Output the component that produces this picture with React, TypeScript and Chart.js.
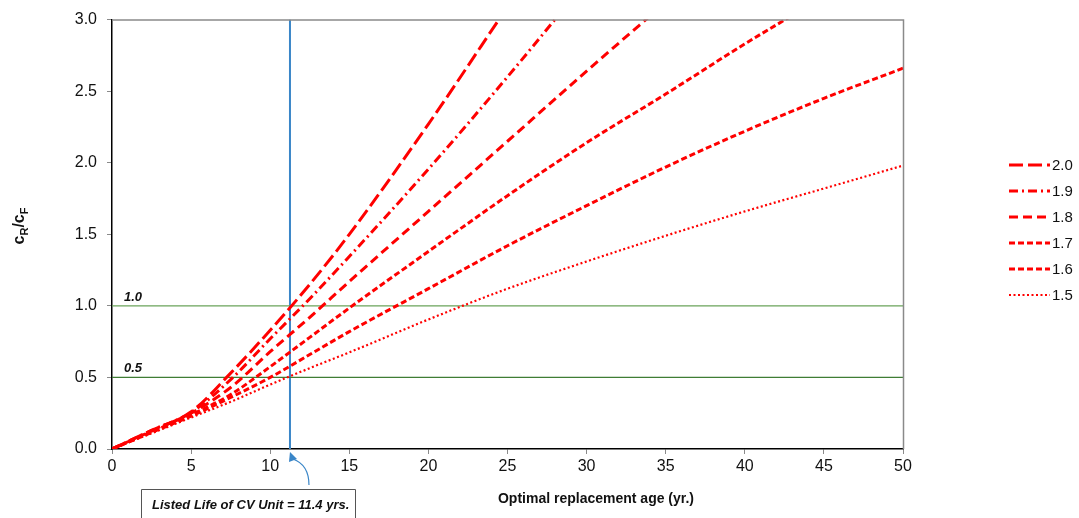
import React, { useEffect, useRef } from "react";
import { Chart, registerables } from "chart.js";
Chart.register(...registerables);

// ---- data ----
const ages = [0, 2.5, 5, 7.5, 10, 12.5, 15, 20, 25, 30, 35, 40, 45, 50];
const ratio20 = [0, 0.13, 0.26, 0.53, 0.83, 1.15, 1.5, 2.27, 3.09, null, null, null, null, null];
const ratio19 = [0, 0.13, 0.255, 0.485, 0.77, 1.05, 1.345, 1.955, 2.6, 3.27, null, null, null, null];
const ratio18 = [0, 0.125, 0.25, 0.43, 0.68, 0.92, 1.17, 1.66, 2.15, 2.64, 3.12, null, null, null];
const ratio17 = [0, 0.12, 0.24, 0.38, 0.575, 0.78, 0.985, 1.38, 1.77, 2.14, 2.48, 2.83, 3.16, null];
const ratio16 = [0, 0.115, 0.23, 0.36, 0.5, 0.66, 0.82, 1.12, 1.42, 1.7, 1.97, 2.22, 2.45, 2.66];
const ratio15 = [0, 0.11, 0.22, 0.33, 0.45, 0.565, 0.675, 0.905, 1.12, 1.31, 1.49, 1.66, 1.82, 1.98];
const seriesLabels = ["2.0", "1.9", "1.8", "1.7", "1.6", "1.5"];
const seriesValues = [ratio20, ratio19, ratio18, ratio17, ratio16, ratio15];
const seriesDashes = [[14, 5], [9, 4, 2, 4], [9, 5], [6, 3], [6, 3], [2, 2.5]];
const seriesWidths = [3, 3, 3, 3, 3, 2.2];

const refLevels = [1.0, 0.5];
const refLabels = ["1.0", "0.5"];
const refColors = ["#6aa35a", "#3f7d34"];
const listedLifeLine = 11.25;
const listedLifeText = "Listed Life of CV Unit = 11.4 yrs.";
const xRange = [0, 50];
const yRange = [0, 3];
const xTitle = "Optimal replacement age (yr.)";

const FONT = "'Liberation Sans', Arial, sans-serif";

const decor = {
  id: "decor",
  afterDraw(chart: any) {
    const { ctx, chartArea, scales } = chart;
    const xs = scales.x;
    const ys = scales.y;
    ctx.save();
    // top & right frame
    ctx.strokeStyle = "#8a8a8a";
    ctx.lineWidth = 1.5;
    ctx.beginPath();
    ctx.moveTo(chartArea.left, chartArea.top + 0.5);
    ctx.lineTo(chartArea.right + 0.5, chartArea.top + 0.5);
    ctx.lineTo(chartArea.right + 0.5, chartArea.bottom);
    ctx.stroke();

    // reference level labels
    ctx.fillStyle = "#111";
    ctx.font = `bold italic 13px ${FONT}`;
    ctx.textBaseline = "alphabetic";
    ctx.textAlign = "left";
    refLevels.forEach((lv, i) => {
      ctx.fillText(refLabels[i], xs.getPixelForValue(0) + 12, ys.getPixelForValue(lv) - 5);
    });

    // legend
    const lx = 1009;
    chart.data.datasets.forEach((ds: any, i: number) => {
      if (ds.legendHidden) return;
      const y = 165 + i * 26;
      ctx.strokeStyle = ds.borderColor;
      ctx.lineWidth = ds.borderWidth;
      ctx.setLineDash(ds.borderDash || []);
      ctx.beginPath();
      ctx.moveTo(lx, y);
      ctx.lineTo(lx + 41, y);
      ctx.stroke();
      ctx.setLineDash([]);
      ctx.fillStyle = "#111";
      ctx.font = `15px ${FONT}`;
      ctx.textBaseline = "middle";
      ctx.fillText(ds.label, lx + 43, y + 1);
    });

    // y title c_R / c_F
    ctx.save();
    ctx.translate(24, 226);
    ctx.rotate(-Math.PI / 2);
    ctx.fillStyle = "#111";
    ctx.textBaseline = "alphabetic";
    const big = `bold 16px ${FONT}`;
    const small = `bold 11px ${FONT}`;
    const parts: [string, string, number][] = [["c", big, 0], ["R", small, 4], ["/c", big, 0], ["F", small, 4]];
    let total = 0;
    parts.forEach(([t, f]) => { ctx.font = f; total += ctx.measureText(t).width; });
    let cx = -total / 2;
    parts.forEach(([t, f, dy]) => {
      ctx.font = f;
      ctx.fillText(t, cx, dy);
      cx += ctx.measureText(t).width;
    });
    ctx.restore();

    // x title
    ctx.fillStyle = "#111";
    ctx.font = `bold 14px ${FONT}`;
    ctx.textAlign = "center";
    ctx.textBaseline = "alphabetic";
    ctx.fillText(xTitle, 596, 503);

    // annotation box
    ctx.strokeStyle = "#555";
    ctx.lineWidth = 1;
    ctx.beginPath();
    ctx.moveTo(141.5, 520);
    ctx.lineTo(141.5, 489.5);
    ctx.lineTo(355.5, 489.5);
    ctx.lineTo(355.5, 520);
    ctx.stroke();
    ctx.textAlign = "left";
    let fs = 13;
    ctx.font = `bold italic ${fs}px ${FONT}`;
    const w = ctx.measureText(listedLifeText).width;
    if (w > 198) {
      fs = (13 * 198) / w;
      ctx.font = `bold italic ${fs}px ${FONT}`;
    }
    ctx.fillStyle = "#111";
    ctx.fillText(listedLifeText, 152, 509);

    // curved arrow
    const ax = xs.getPixelForValue(listedLifeLine);
    ctx.strokeStyle = "#3a86c8";
    ctx.fillStyle = "#3a86c8";
    ctx.lineWidth = 1.2;
    ctx.beginPath();
    ctx.moveTo(ax + 19, 485);
    ctx.bezierCurveTo(ax + 19, 472, ax + 14, 463, ax + 3, 459);
    ctx.stroke();
    ctx.beginPath();
    ctx.moveTo(ax, 452);
    ctx.lineTo(ax + 7, 459);
    ctx.lineTo(ax - 1, 462);
    ctx.closePath();
    ctx.fill();
    ctx.restore();
  },
};

export default function App() {
  const ref = useRef<HTMLCanvasElement>(null);
  useEffect(() => {
    const datasets: any[] = seriesValues.map((vals, i) => ({
      label: seriesLabels[i],
      data: ages
        .map((a, j) => ({ x: a, y: vals[j] }))
        .filter((p) => p.y !== null),
      borderColor: "#ff0000",
      borderWidth: seriesWidths[i],
      borderDash: seriesDashes[i],
      pointRadius: 0,
      fill: false,
      cubicInterpolationMode: "monotone",
    }));
    refLevels.forEach((lv, i) => {
      datasets.push({
        label: "ref" + refLabels[i],
        legendHidden: true,
        data: [{ x: xRange[0], y: lv }, { x: xRange[1], y: lv }],
        borderColor: refColors[i],
        borderWidth: 1.2,
        pointRadius: 0,
        fill: false,
      });
    });
    datasets.push({
      label: "listed",
      legendHidden: true,
      data: [{ x: listedLifeLine, y: yRange[0] }, { x: listedLifeLine, y: yRange[1] }],
      borderColor: "#3a86c8",
      borderWidth: 2,
      pointRadius: 0,
      fill: false,
    });

    const chart = new Chart(ref.current!, {
      type: "line",
      data: { datasets },
      plugins: [decor],
      options: {
        animation: false,
        responsive: false,
        layout: { padding: { left: 0, top: 18, right: 176, bottom: 0 } },
        plugins: { legend: { display: false }, tooltip: { enabled: false } },
        scales: {
          x: {
            type: "linear",
            min: xRange[0],
            max: xRange[1],
            afterFit: (s: any) => { s.height = 69; },
            ticks: { stepSize: 5, color: "#111", font: { family: FONT, size: 16 }, padding: 3, maxRotation: 0 },
            grid: { drawOnChartArea: false, drawTicks: true, tickLength: 5, color: "#8a8a8a" },
            border: { display: true, color: "#000", width: 1.5 },
          },
          y: {
            type: "linear",
            min: yRange[0],
            max: yRange[1],
            afterFit: (s: any) => { s.width = 112; },
            ticks: {
              stepSize: 0.5,
              color: "#111",
              font: { family: FONT, size: 16 },
              padding: 10,
              callback: (v: any) => Number(v).toFixed(1),
            },
            grid: { drawOnChartArea: false, drawTicks: true, tickLength: 5, color: "#8a8a8a" },
            border: { display: true, color: "#000", width: 1.5 },
          },
        },
      } as any,
    });
    return () => chart.destroy();
  }, []);
  return (
    <div style={{ position: "fixed", left: 0, top: 0, width: 1079, height: 518, background: "#fff" }}>
      <canvas ref={ref} width={1079} height={518} />
    </div>
  );
}
